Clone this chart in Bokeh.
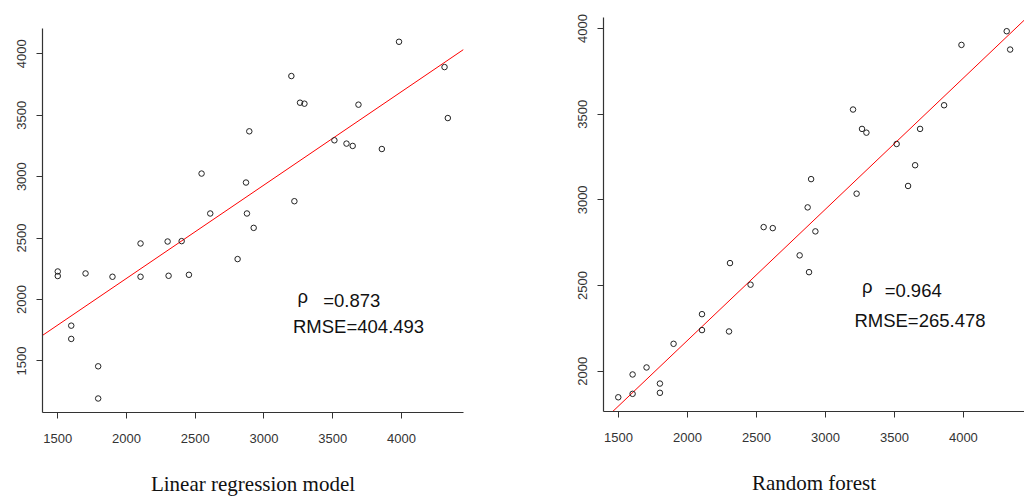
from bokeh.plotting import figure
from bokeh.models import Range1d, FixedTicker, Label, ColumnDataSource
from bokeh.layouts import row, column
from bokeh.embed import file_html
from bokeh.resources import INLINE

# ---------------- data ----------------
lr_actual = [3982, 3199, 3262, 3294, 3687, 4313, 4337, 2893, 3512, 3600, 3645,
             3857, 2546, 2869, 3221, 2609, 2876, 2925, 2102, 2299, 2401, 2808,
             1500, 1500, 1702, 1898, 2102, 2306, 2454, 1598, 1598, 1794, 1794]
lr_pred = [4098, 3819, 3602, 3594, 3586, 3892, 3477, 3369, 3296, 3269, 3250,
           3225, 3025, 2952, 2800, 2700, 2700, 2583, 2456, 2472, 2475, 2329,
           2228, 2191, 2212, 2185, 2185, 2193, 2201, 1787, 1679, 1456, 1194]

rf_actual = [4314, 4339, 3986, 3200, 3265, 3297, 3686, 3860, 3516, 3650, 3599,
             3226, 2896, 2871, 2552, 2618, 2927, 2813, 2881, 2308, 2457, 2105,
             2105, 2301, 1899, 1703, 1602, 1800, 1602, 1800, 1498]
rf_pred = [3984, 3877, 3904, 3527, 3414, 3392, 3414, 3552, 3326, 3202, 3081,
           3036, 3121, 2956, 2841, 2835, 2816, 2676, 2578, 2631, 2505, 2333,
           2240, 2232, 2160, 2022, 1981, 1928, 1868, 1874, 1848]

# fitted red lines: intercept, slope
lr_fit = [652, 0.760]
rf_fit = [649, 0.7655]

lr_xticks = [1500, 2000, 2500, 3000, 3500, 4000]
lr_yticks = [1500, 2000, 2500, 3000, 3500, 4000]
rf_xticks = [1500, 2000, 2500, 3000, 3500, 4000]
rf_yticks = [2000, 2500, 3000, 3500, 4000]

lr_title = "Linear regression model"
rf_title = "Random forest"
lr_stats = ["\u03c1", "=0.873", "RMSE=404.493"]
rf_stats = ["\u03c1", "=0.964", "RMSE=265.478"]

AXIS_COL = "#333333"
SANS = "Liberation Sans"
SERIF = "Liberation Serif"


def make_panel(xs, ys, fit, xr, yr, xticks, yticks, title, stats, stat_pos,
               width, height, borders):
    left, right, top, bottom = borders
    p = figure(width=width, height=height, x_range=Range1d(*xr), y_range=Range1d(*yr),
               output_backend="svg", toolbar_location=None,
               min_border_left=left, min_border_right=right,
               min_border_top=top, min_border_bottom=bottom)
    p.outline_line_color = None
    p.grid.visible = False
    p.background_fill_color = "white"
    p.border_fill_color = "white"

    for ax in (p.xaxis[0], p.yaxis[0]):
        ax.axis_line_color = AXIS_COL
        ax.axis_line_width = 1.2
        ax.major_tick_line_color = AXIS_COL
        ax.major_tick_out = 6
        ax.major_tick_in = 0
        ax.minor_tick_line_color = None
        ax.major_label_text_font = SANS
        ax.major_label_text_font_size = "13px"
        ax.major_label_text_color = "#333333"

    p.xaxis.ticker = FixedTicker(ticks=xticks)
    p.yaxis.ticker = FixedTicker(ticks=yticks)
    p.xaxis.major_label_standoff = 15
    p.yaxis.major_label_standoff = 10
    p.yaxis.major_label_orientation = "vertical"

    p.xaxis.axis_label = title
    p.xaxis.axis_label_text_font = SERIF
    p.xaxis.axis_label_text_font_style = "normal"
    p.xaxis.axis_label_text_font_size = "21px"
    p.xaxis.axis_label_text_color = "#111111"
    p.xaxis.axis_label_standoff = 26

    # red fitted line across the whole plot region
    x0, x1 = xr
    p.line([x0, x1], [fit[0] + fit[1] * x0, fit[0] + fit[1] * x1],
           line_color="red", line_width=1)

    src = ColumnDataSource(dict(x=xs, y=ys))
    p.scatter("x", "y", source=src, marker="circle", size=5.5,
              fill_color=None, line_color="#222222", line_width=1)

    for txt, (tx, ty) in zip(stats, stat_pos):
        p.add_layout(Label(x=tx, y=ty, text=txt, text_font=SANS,
                           text_font_size="18.5px", text_color="#111111",
                           text_baseline="alphabetic"))
    return p


p1 = make_panel(lr_actual, lr_pred, lr_fit, (1389, 4451), (1080, 4206),
                lr_xticks, lr_yticks, lr_title, lr_stats,
                [(3243, 2024), (3431, 1993), (3211, 1777)],
                520, 498, (42, 57, 28, 85))
p2 = make_panel(rf_actual, rf_pred, rf_fit, (1391, 4443), (1765, 4064),
                rf_xticks, rf_yticks, rf_title, rf_stats,
                [(3265, 2493), (3429, 2471), (3210, 2298)],
                504, 498, (83, 0, 17, 87))

layout = row(column(p1), column(p2))
open("out.html", "w").write(file_html(layout, INLINE))
